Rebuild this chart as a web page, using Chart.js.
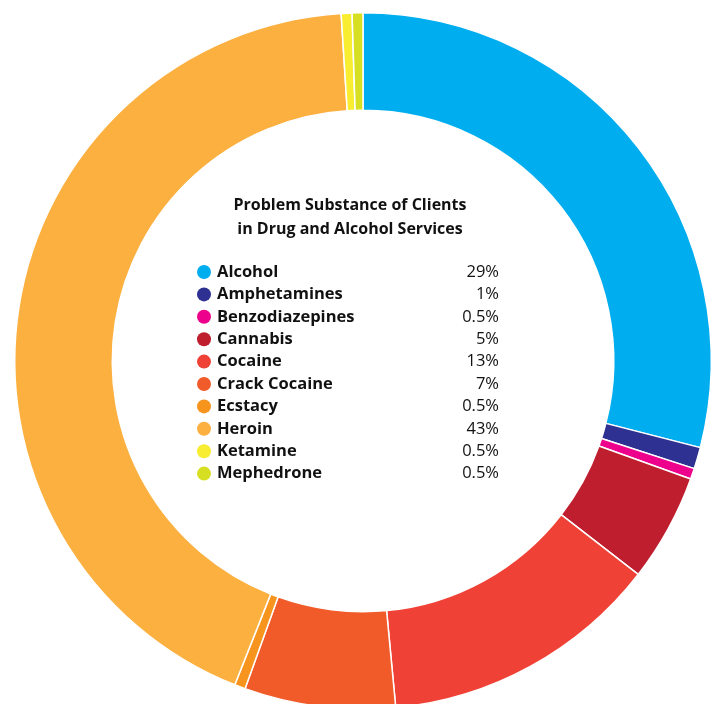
<!DOCTYPE html>
<html lang="en">

<head>
    <meta charset="UTF-8">
    <meta name="viewport" content="width=device-width, initial-scale=1.0">
    <title>Problem Substance of Clients</title>
    <script src="https://cdn.jsdelivr.net/npm/chart.js"></script>
    <style>
        html, body { margin: 0; padding: 0; background: #fff; overflow: hidden; }
        #wrap { position: relative; width: 718px; height: 704px; overflow: hidden; }
        #canvas { position: absolute; left: 0; top: 0; }
    </style>
</head>

<body>
    <div id="wrap">
        <canvas id="canvas" width="726" height="722"></canvas>
    </div>
</body>

</html>
<script>
    // substances and share of clients (%)
    const substances = ['Alcohol', 'Amphetamines', 'Benzodiazepines', 'Cannabis', 'Cocaine',
        'Crack Cocaine', 'Ecstacy', 'Heroin', 'Ketamine', 'Mephedrone'];
    const shares = [29, 1, 0.5, 5, 13, 7, 0.5, 43, 0.5, 0.5];
    const colours = ['#00AEEF', '#2E3192', '#EC008C', '#BE1E2D', '#EF4136',
        '#F15A29', '#F7941D', '#FBB040', '#F9ED32', '#D7DF23'];
    const titleLines = ['Problem Substance of Clients', 'in Drug and Alcohol Services'];

    // legend + title drawn inside the hole
    const centreLegend = {
        id: 'centreLegend',
        afterDatasetsDraw(chart) {
            const c = chart.ctx;
            c.save();
            c.fillStyle = '#111';
            c.textBaseline = 'middle';
            c.textAlign = 'center';
            c.font = 'bold 16px "Open Sans"';
            titleLines.forEach((t, i) => c.fillText(t, 350, 205 + i * 24));

            substances.forEach((name, i) => {
                const y = 272 + i * 22.4;
                c.beginPath();
                c.arc(204, y, 7, 0, Math.PI * 2);
                c.fillStyle = colours[i];
                c.fill();
                c.fillStyle = '#111';
                c.textAlign = 'left';
                c.font = 'bold 16.5px "Open Sans"';
                c.fillText(name, 217, y);
                c.textAlign = 'right';
                c.font = '16.5px "Open Sans"';
                c.fillText(shares[i] + '%', 499, y);
            });
            c.restore();
        }
    };

    const ctx = document.getElementById('canvas').getContext('2d');
    const chart = new Chart(ctx, {
        type: 'doughnut',
        data: {
            labels: substances,
            datasets: [{
                data: shares,
                backgroundColor: colours,
                borderColor: '#fff',
                borderWidth: 1.5
            }]
        },
        options: {
            responsive: false,
            animation: false,
            cutout: '72%',
            layout: { padding: { left: 14, right: 14, top: 12, bottom: 12 } },
            plugins: {
                legend: { display: false },
                tooltip: { enabled: false }
            }
        },
        plugins: [centreLegend]
    });
</script>
